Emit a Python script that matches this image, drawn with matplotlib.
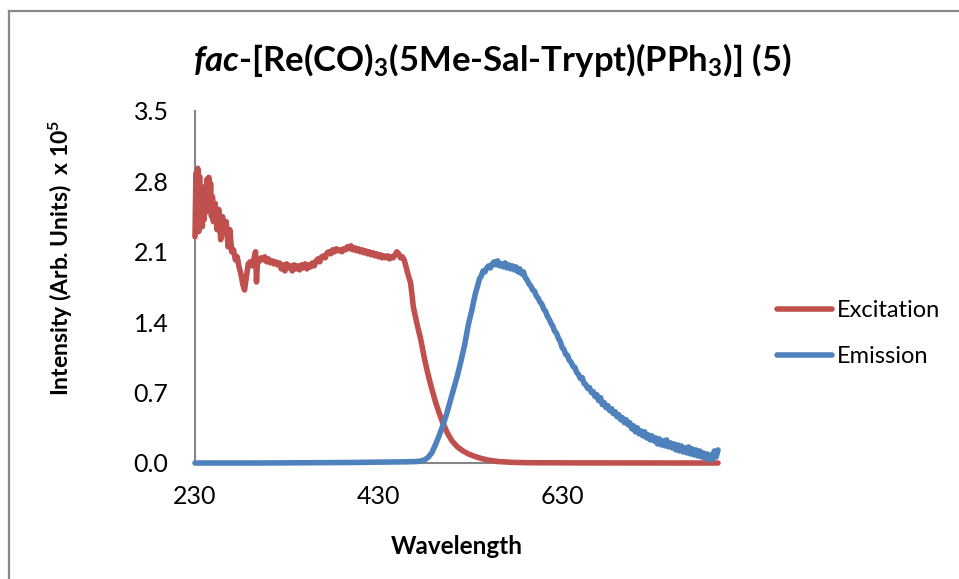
import matplotlib
matplotlib.use("Agg")
import matplotlib.pyplot as plt
from matplotlib.lines import Line2D

plt.rcParams['font.family'] = ['Lato', 'DejaVu Sans']
plt.rcParams['mathtext.fontset'] = 'custom'
plt.rcParams['mathtext.rm'] = 'Lato:bold'
plt.rcParams['mathtext.it'] = 'Lato:bold:italic'
plt.rcParams['mathtext.bf'] = 'Lato:bold'

# Excitation spectrum
exc_wl = [230, 231, 232, 233, 234, 235, 236, 237, 238, 239, 240, 241, 242, 243, 244,
          245, 246, 247, 248, 249, 250,
          252, 254, 256, 258, 260, 262, 264, 266, 268, 270, 272, 274, 276, 278, 280,
          282, 284, 286, 288, 290, 292, 294, 296, 297, 298] + list(range(300, 461, 2)) + \
         [462, 465, 468, 472, 476, 480, 484, 488, 492, 496, 500, 505, 510, 516, 522, 528,
          535, 542, 550, 560, 575, 590, 610, 650, 700, 750, 800]
exc_int = [2.25, 2.88, 2.40, 2.93, 2.30, 2.85, 2.45, 2.60, 2.35, 2.70, 2.42, 2.75, 2.55,
           2.82, 2.50, 2.84, 2.60, 2.78, 2.45, 2.65, 2.40,
           2.58, 2.32, 2.52, 2.22, 2.45, 2.28, 2.40, 2.15, 2.32, 2.10, 2.12, 2.02, 2.05,
           1.95, 1.88, 1.78, 1.72, 1.85, 1.98, 2.00, 1.96, 2.02, 2.10, 1.80, 1.98,
           # 300 - 460 nm
           2.01, 2.04, 2.02, 2.05, 2.00, 2.03, 1.99, 2.01, 1.98, 2.00,
           1.97, 1.99, 1.93, 1.97, 1.91, 1.98, 1.94, 1.96, 1.91, 1.97,
           1.93, 1.96, 1.92, 1.97, 1.94, 1.98, 1.93, 1.97, 1.95, 1.99,
           1.96, 2.01, 2.03, 2.00, 2.05, 2.06, 2.04, 2.09, 2.10, 2.08,
           2.12, 2.10, 2.13, 2.11, 2.12, 2.10, 2.13, 2.12, 2.15, 2.13,
           2.16, 2.12, 2.14, 2.11, 2.13, 2.10, 2.12, 2.09, 2.11, 2.08,
           2.10, 2.07, 2.09, 2.06, 2.08, 2.05, 2.07, 2.04, 2.06, 2.04,
           2.06, 2.03, 2.05, 2.04, 2.07, 2.10, 2.08, 2.04, 2.05, 2.02,
           1.95,
           # fall-off
           1.88, 1.79, 1.55, 1.38, 1.23, 1.04, 0.88, 0.74, 0.61, 0.50, 0.40, 0.30, 0.22,
           0.16, 0.12, 0.09, 0.065, 0.045, 0.028, 0.015, 0.007, 0.003, 0.002, 0.001,
           0.0, 0.0, 0.0]

# Emission spectrum
em_wl = [230, 300, 350, 400, 430, 450, 460, 466, 472, 476, 480, 484, 488, 492, 496,
         500, 504, 508, 512, 516, 520, 524, 528] + list(range(532, 801, 2))
em_int = [0.0, 0.0, 0.002, 0.005, 0.008, 0.01, 0.012, 0.013, 0.015, 0.02, 0.03, 0.055,
          0.10, 0.18, 0.27, 0.37, 0.48, 0.61, 0.74, 0.87, 1.02, 1.18, 1.38,
          # 532 - 800 nm
          1.53, 1.62, 1.70, 1.76, 1.83, 1.86, 1.91, 1.90, 1.94, 1.96,
          1.94, 1.98, 2.00, 1.97, 2.01, 1.96, 1.98, 1.95, 1.99, 1.94,
          1.97, 1.93, 1.96, 1.92, 1.95, 1.90, 1.93, 1.88, 1.90, 1.84,
          1.82, 1.78, 1.76, 1.72, 1.71, 1.66, 1.64, 1.60, 1.58, 1.53,
          1.51, 1.46, 1.43, 1.39, 1.36, 1.31, 1.29, 1.24, 1.21, 1.15,
          1.13, 1.08, 1.07, 1.02, 1.00, 0.96, 0.95, 0.90, 0.88, 0.84,
          0.85, 0.79, 0.78, 0.74, 0.75, 0.70, 0.71, 0.66, 0.68, 0.62,
          0.65, 0.58, 0.60, 0.55, 0.57, 0.52, 0.54, 0.49, 0.51, 0.46,
          0.48, 0.43, 0.45, 0.40, 0.43, 0.38, 0.40, 0.34, 0.37, 0.31,
          0.35, 0.29, 0.32, 0.27, 0.31, 0.25, 0.28, 0.23, 0.27, 0.22,
          0.25, 0.19, 0.24, 0.18, 0.22, 0.17, 0.23, 0.16, 0.20, 0.15,
          0.19, 0.13, 0.18, 0.12, 0.17, 0.11, 0.15, 0.10, 0.16, 0.09,
          0.14, 0.08, 0.13, 0.07, 0.12, 0.06, 0.10, 0.05, 0.09, 0.03,
          0.08, 0.04, 0.12, 0.06, 0.13]

x_ticks = [230, 430, 630]
y_ticks = [0.0, 0.7, 1.4, 2.1, 2.8, 3.5]

fig = plt.figure(figsize=(9.59, 5.79), dpi=100)
ax = fig.add_axes([195 / 959, 1 - 463 / 579, (718 - 195) / 959, (463 - 111) / 579])

ax.plot(exc_wl, exc_int, color="#C0504D", lw=4.0, label="Excitation",
        solid_capstyle="round", solid_joinstyle="round", clip_on=False, zorder=3)
ax.plot(em_wl, em_int, color="#4F81BD", lw=4.0, label="Emission",
        solid_capstyle="round", solid_joinstyle="round", clip_on=False, zorder=4)

ax.set_xlim(230, 800)
ax.set_ylim(0, 3.5)
ax.set_xticks(x_ticks)
ax.set_yticks(y_ticks)
ax.set_yticklabels([f"{v:.1f}" for v in y_ticks])
ax.tick_params(axis="both", length=0, labelsize=18)
ax.tick_params(axis="y", pad=19)
ax.tick_params(axis="x", pad=16)

for s in ["top", "right"]:
    ax.spines[s].set_visible(False)
for s in ["left", "bottom"]:
    ax.spines[s].set_color("#868686")
    ax.spines[s].set_linewidth(1.5)

ax.set_xlabel("Wavelength", fontsize=17.5, fontweight="bold")
ax.xaxis.set_label_coords(0.5, -(546 - 463) / 352, transform=ax.transAxes)
ax.xaxis.label.set_va("center")

fig.text(61 / 959, 1 - 258 / 579, r"Intensity (Arb. Units)  x 10$^5$", rotation=90,
         fontsize=16.5, fontweight="bold", ha="center", va="center")

fig.text(492 / 959, 1 - 60 / 579,
         r"$\mathit{fac}$-[Re(CO)$_3$(5Me-Sal-Trypt)(PPh$_3$)] (5)",
         fontsize=25, fontweight="bold", ha="center", va="center")

fig.legend(loc="center left", bbox_to_anchor=(777 / 959, 1 - 333.5 / 579),
           frameon=False, fontsize=17, handlelength=2.35, handletextpad=0.2,
           labelspacing=1.05, borderpad=0, borderaxespad=0)

# chart border
fig.add_artist(Line2D([9 / 959, 9 / 959], [0, 1 - 11 / 579], color="#888888", lw=1.6))
fig.add_artist(Line2D([9 / 959, 1], [1 - 11 / 579, 1 - 11 / 579], color="#888888", lw=1.6))

fig.savefig("out.png", dpi=100)
